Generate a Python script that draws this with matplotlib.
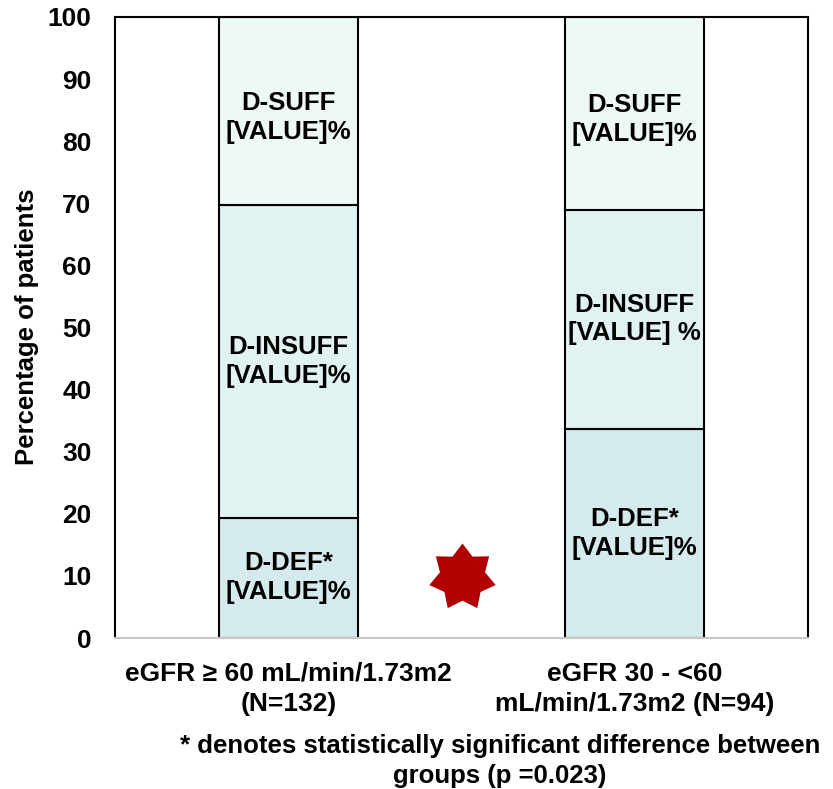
import matplotlib.pyplot as plt
from matplotlib.path import Path
import numpy as np

# data
groups = ["eGFR \u2265 60 mL/min/1.73m2\n(N=132)", "eGFR 30 - <60\nmL/min/1.73m2 (N=94)"]
d_def = [19.4, 33.7]
d_insuff = [50.3, 35.3]
d_suff = [30.3, 31.0]
def_labels = ["D-DEF*\n[VALUE]%", "D-DEF*\n[VALUE]%"]
insuff_labels = ["D-INSUFF\n[VALUE]%", "D-INSUFF\n[VALUE] %"]
suff_labels = ["D-SUFF\n[VALUE]%", "D-SUFF\n[VALUE]%"]
star_pos = (1.0, 9.8)
footnote = "* denotes statistically significant difference between\ngroups (p =0.023)"

plt.rcParams["font.family"] = ["Liberation Sans", "DejaVu Sans"]
plt.rcParams["font.weight"] = "bold"
fs = 18.5
ls = 1.25

fig = plt.figure(figsize=(8.33, 7.89), dpi=100)
ax = fig.add_axes([115 / 833, 1 - 638 / 789, 693 / 833, 621 / 789])

x = np.array([0.5, 1.5])
w = 0.4
c_def = "#d5eaed"
c_ins = "#e1f2f2"
c_suf = "#eef8f6"

ax.bar(x, d_def, w, color=c_def, edgecolor="black", linewidth=1.5)
ax.bar(x, d_insuff, w, bottom=d_def, color=c_ins, edgecolor="black", linewidth=1.5)
bot = np.array(d_def) + np.array(d_insuff)
ax.bar(x, d_suff, w, bottom=bot, color=c_suf, edgecolor="black", linewidth=1.5)

for i in range(2):
    ax.text(x[i], d_def[i] / 2, def_labels[i], ha="center", va="center", fontsize=fs,
            fontweight="bold", linespacing=ls)
    ax.text(x[i], d_def[i] + d_insuff[i] / 2, insuff_labels[i], ha="center", va="center",
            fontsize=fs, fontweight="bold", linespacing=ls)
    ax.text(x[i], bot[i] + (100 - bot[i]) / 2 - 1, suff_labels[i], ha="center", va="center",
            fontsize=fs, fontweight="bold", linespacing=ls)

# 7-point star
n = 7
ang = np.linspace(0, 2 * np.pi, 2 * n, endpoint=False) + np.pi / 2
r = np.where(np.arange(2 * n) % 2 == 0, 1.0, 0.68)
verts = np.column_stack([r * np.cos(ang), r * np.sin(ang)])
verts = np.vstack([verts, verts[:1]])
star = Path(verts, closed=True)
ax.plot(*star_pos, marker=star, markersize=49, color="#b00000", markeredgewidth=0)

ax.set_xlim(0, 2)
ax.set_ylim(0, 100)
ax.set_yticks(range(0, 101, 10))
ax.set_xticks(x)
ax.set_xticklabels(groups, fontsize=19, fontweight="bold", linespacing=1.33)
ax.tick_params(axis="y", labelsize=19, length=0, pad=17)
ax.tick_params(axis="x", length=0, pad=17)
for lab in ax.get_yticklabels():
    lab.set_fontweight("bold")
for s in ["left", "top", "right"]:
    ax.spines[s].set_linewidth(1.5)
    ax.spines[s].set_color("black")
ax.spines["bottom"].set_color("#c8c8c8")
ax.spines["bottom"].set_linewidth(1.5)

fig.text(27 / 833, 1 - 327 / 789, "Percentage of patients", rotation=90, ha="center", va="center",
         fontsize=fs, fontweight="bold")
fig.text(500 / 833, 1 - 761 / 789, footnote, ha="center", va="center", fontsize=fs,
         fontweight="bold", linespacing=1.33)

fig.savefig("out.png", dpi=100)
